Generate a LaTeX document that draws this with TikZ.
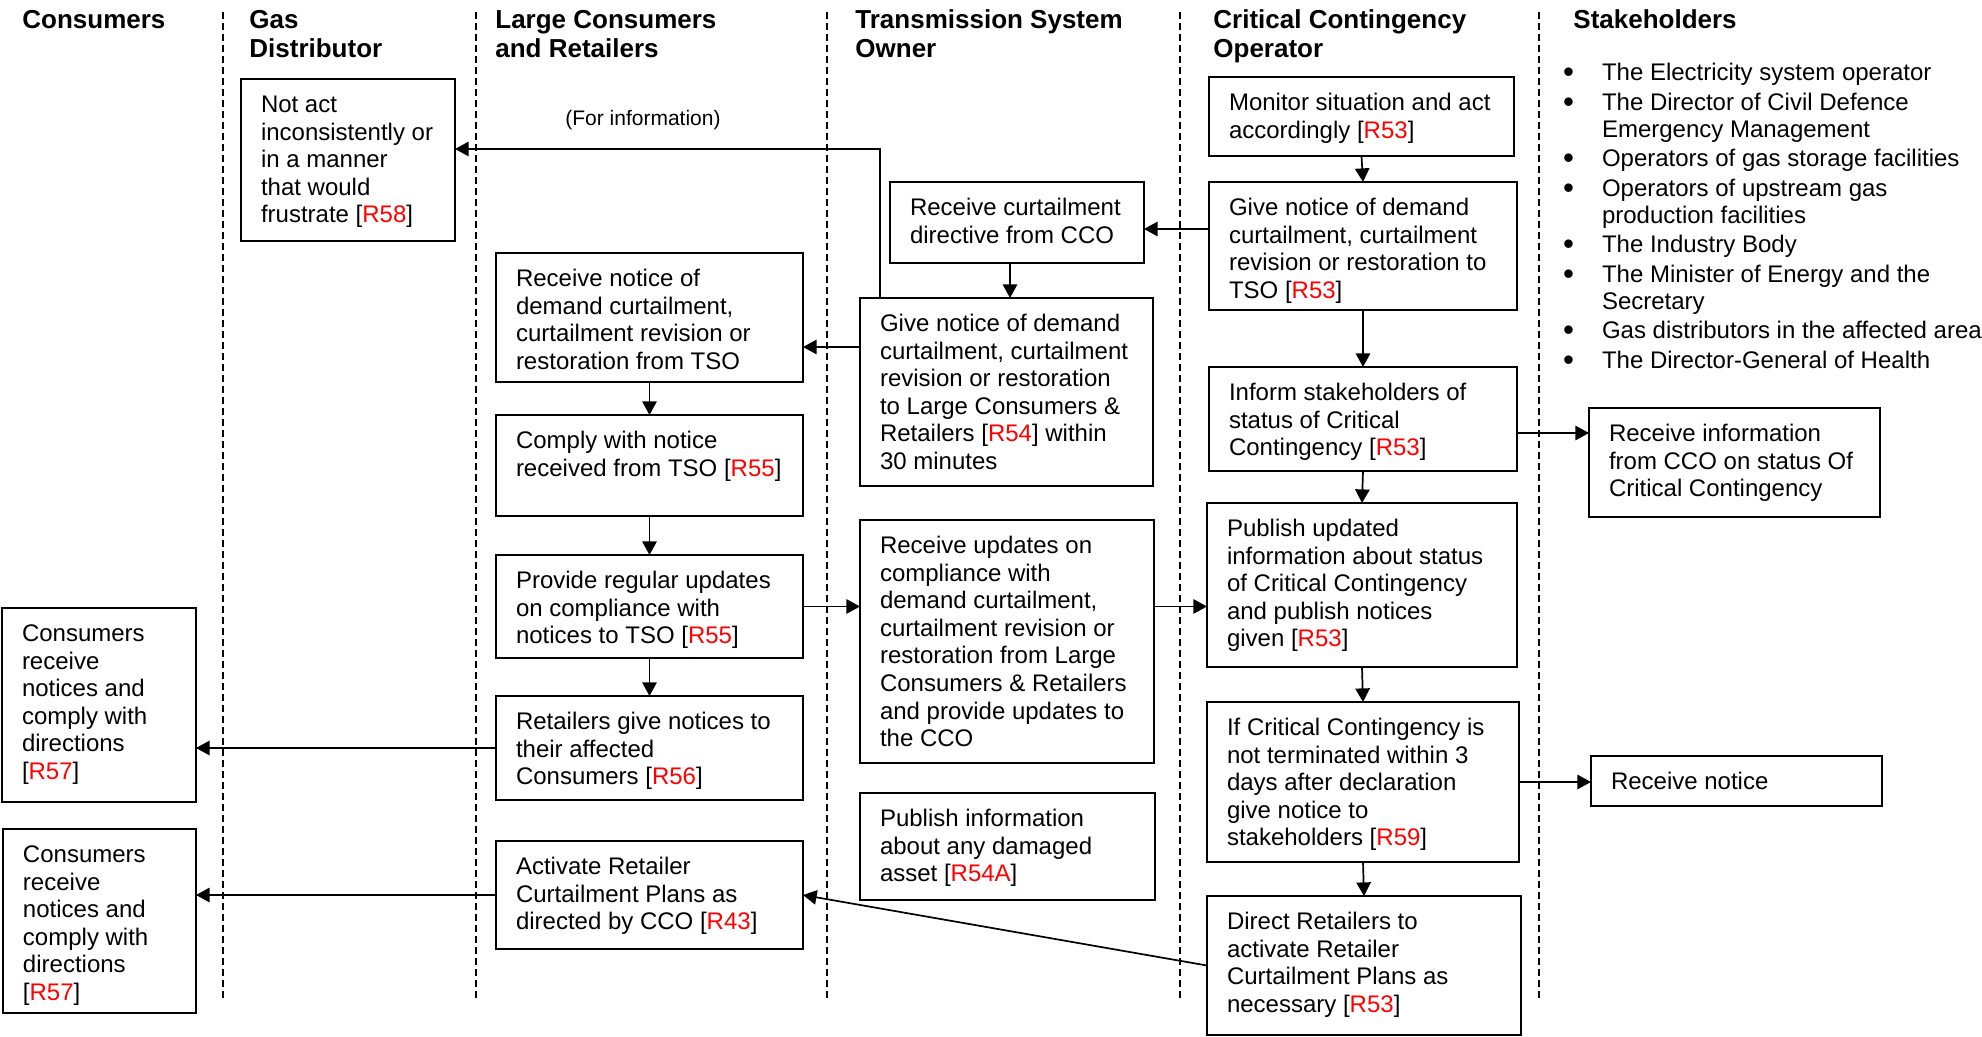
\documentclass[tikz,border=0pt]{standalone}
\usepackage{fontspec}
\setmainfont{Liberation Sans}
\usetikzlibrary{arrows.meta,fit}
\newcommand\rr[1]{\textcolor{red}{#1}}
\newcommand\bl{\makebox[19.5pt][l]{\raisebox{-1.2pt}{\scalebox{1.3}{\textbullet}}}}
\newcommand\ind{\hspace*{19.5pt}}
\newcommand\bx[6]{%
  \node[box, fit={(#2,#3)(#4,#5)}] (#1) {};
  \node[txt] (#1-t) at ([xshift=10pt,yshift=-7.1pt]#1.north west) {\strut #6};}
\begin{document}
\begin{tikzpicture}[x=0.5pt,y=-0.5pt,
  box/.style={draw, line width=0.9pt, inner sep=0pt, outer sep=0pt},
  txt/.style={anchor=north west, inner sep=0pt, outer sep=0pt, align=left, font=\fontsize{12}{13.8}\selectfont},
  hd/.style={anchor=north west, inner sep=0pt, align=left, font=\fontsize{13}{14.5}\selectfont\bfseries},
  arr/.style={line width=0.85pt, -{Triangle[length=6.8pt,width=7.2pt]}},
  lane/.style={dash pattern=on 3.5pt off 2pt, line width=0.7pt}]
\useasboundingbox (0,0) rectangle (1982,1037);

% swimlane separators
\draw[lane] (223,12) -- (223,1000);
\draw[lane] (476,12) -- (476,1000);
\draw[lane] (827,12) -- (827,1000);
\draw[lane] (1180,12) -- (1180,1000);
\draw[lane] (1539,12) -- (1539,1000);

% headings
\node[hd] (h1) at (22,8) {\strut Consumers};
\node[hd] (h2) at (249,8) {\strut Gas\\Distributor};
\node[hd] (h3) at (495,8) {\strut Large Consumers\\and Retailers};
\node[hd] (h4) at (855,8) {\strut Transmission System\\Owner};
\node[hd] (h5) at (1213,8) {\strut Critical Contingency\\Operator};
\node[hd] (h6) at (1573,8) {\strut Stakeholders};

% stakeholder list
\node[txt, font=\fontsize{12}{13.5}\selectfont] (stk) at (1563,61.7) {\strut\bl The Electricity system operator\\[1.25pt]\bl The Director of Civil Defence\\\ind Emergency Management\\[1.25pt]\bl Operators of gas storage facilities\\[1.25pt]\bl Operators of upstream gas\\\ind production facilities\\[1.25pt]\bl The Industry Body\\[1.25pt]\bl The Minister of Energy and the\\\ind Secretary\\[1.25pt]\bl Gas distributors in the affected area\\[1.25pt]\bl The Director-General of Health};

% boxes
\bx{gas}{241}{79}{455}{241}{Not act\\inconsistently or\\in a manner\\that would\\frustrate [\rr{R58}]}
\bx{rcvnotice}{496}{253}{803}{382}{Receive notice of\\demand curtailment,\\curtailment revision or\\restoration from TSO}
\bx{comply}{496}{415}{803}{516}{Comply with notice\\received from TSO [\rr{R55}]}
\bx{provide}{496}{555}{803}{658}{Provide regular updates\\on compliance with\\notices to TSO [\rr{R55}]}
\bx{retail}{496}{696}{803}{800}{Retailers give notices to\\their affected\\Consumers [\rr{R56}]}
\bx{activate}{496}{841}{803}{949}{Activate Retailer\\Curtailment Plans as\\directed by CCO [\rr{R43}]}
\bx{consa}{2}{608}{196}{802}{Consumers\\receive\\notices and\\comply with\\directions\\{[}\rr{R57}]}
\bx{consb}{3}{829}{196}{1013}{Consumers\\receive\\notices and\\comply with\\directions\\{[}\rr{R57}]}
\bx{rcvcurt}{890}{182}{1144}{263}{Receive curtailment\\directive from CCO}
\bx{givetso}{860}{298}{1153}{486}{Give notice of demand\\curtailment, curtailment\\revision or restoration\\to Large Consumers \&\\Retailers [\rr{R54}] within\\30 minutes}
\bx{rcvupd}{860}{520}{1154}{763}{Receive updates on\\compliance with\\demand curtailment,\\curtailment revision or\\restoration from Large\\Consumers \& Retailers\\and provide updates to\\the CCO}
\bx{pubinfo}{860}{793}{1155}{900}{Publish information\\about any damaged\\asset [\rr{R54A}]}
\bx{monitor}{1209}{77}{1514}{156}{Monitor situation and act\\accordingly [\rr{R53}]}
\bx{givecco}{1209}{182}{1517}{310}{Give notice of demand\\curtailment, curtailment\\revision or restoration to\\TSO [\rr{R53}]}
\bx{inform}{1209}{367}{1517}{471}{Inform stakeholders of\\status of Critical\\Contingency [\rr{R53}]}
\bx{publish}{1207}{503}{1517}{667}{Publish updated\\information about status\\of Critical Contingency\\and publish notices\\given [\rr{R53}]}
\bx{ifcc}{1207}{702}{1519}{862}{If Critical Contingency is\\not terminated within 3\\days after declaration\\give notice to\\stakeholders [\rr{R59}]}
\bx{direct}{1207}{896}{1521}{1035}{Direct Retailers to\\activate Retailer\\Curtailment Plans as\\necessary [\rr{R53}]}
\bx{rcvinfo}{1589}{408}{1880}{517}{Receive information\\from CCO on status Of\\Critical Contingency}
\bx{rcvnot}{1591}{756}{1882}{806}{Receive notice}

\node[inner sep=0pt, font=\fontsize{10.5}{12}\selectfont] (finfo) at (643,120) {(For information)};

% helper coordinates
\coordinate (yfi) at (880,149);
\coordinate (xcurt) at (1010,0);
\coordinate (ycurt) at (0,229);
\coordinate (ynot) at (0,347);
\coordinate (yinf) at (0,433);

% connectors
\draw[arr] (monitor.south) -- (givecco.north);
\draw[arr] (givecco.west |- ycurt) -- (rcvcurt.east |- ycurt);
\draw[arr] (xcurt |- rcvcurt.south) -- (xcurt |- givetso.north);
\draw[arr] (givecco.south) -- (inform.north);
\draw[arr] (inform.east |- yinf) -- (rcvinfo.west |- yinf);
\draw[arr] (inform.south) -- (publish.north);
\draw[arr] (publish.south) -- (ifcc.north);
\draw[arr] (ifcc.east) -- (rcvnot.west |- ifcc.east);
\draw[arr] (ifcc.south) -- (direct.north);
\draw[arr] (direct.west) -- (activate.east);
\draw[arr] (givetso.west |- ynot) -- (rcvnotice.east |- ynot);
\draw[arr] (givetso.north west -| yfi) -- (yfi) -- (gas.east |- yfi);
\draw[arr] (rcvnotice.south) -- (comply.north);
\draw[arr] (comply.south) -- (provide.north);
\draw[arr] (provide.east) -- (rcvupd.west |- provide.east);
\draw[arr] (rcvupd.east |- provide.east) -- (publish.west |- provide.east);
\draw[arr] (provide.south) -- (retail.north);
\draw[arr] (retail.west) -- (consa.east |- retail.west);
\draw[arr] (activate.west) -- (consb.east |- activate.west);
\end{tikzpicture}
\end{document}
